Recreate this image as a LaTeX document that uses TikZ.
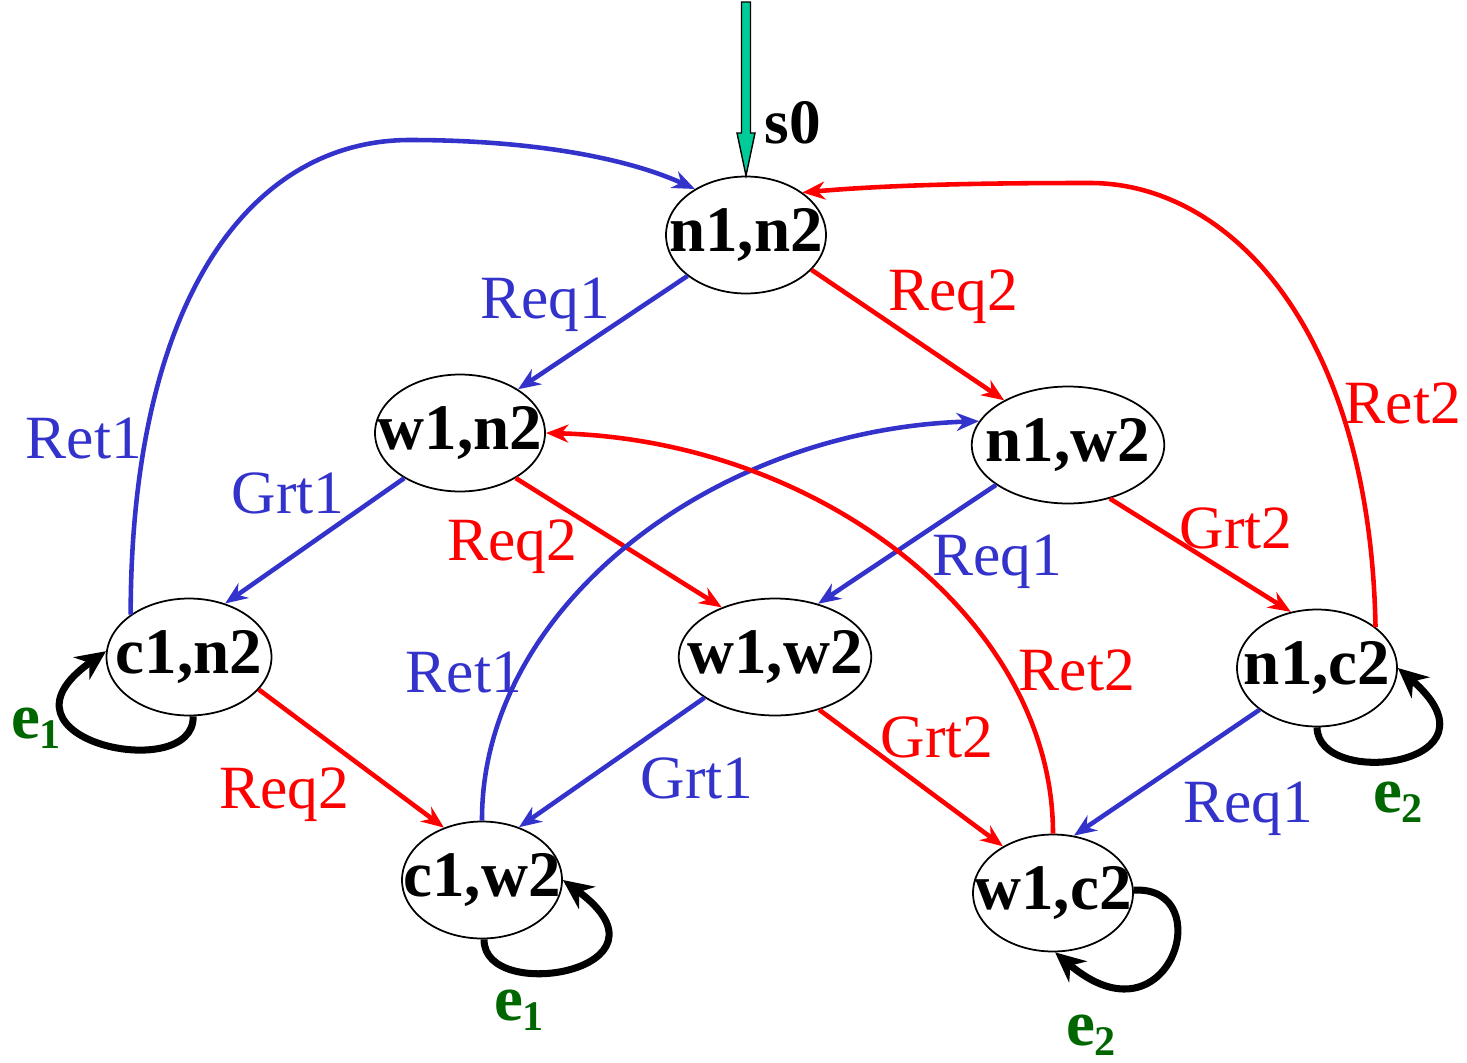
\documentclass[tikz,border=0pt]{standalone}
\usepackage{fontspec}
\setmainfont{Liberation Serif}
\usetikzlibrary{arrows.meta,shapes.geometric,calc}
\definecolor{mxblue}{HTML}{3333CC}
\definecolor{mxred}{HTML}{FF0000}
\definecolor{mxgreen}{HTML}{006600}
\definecolor{initgreen}{HTML}{00CC99}
\newcommand{\stname}[1]{\makebox[0pt]{\raisebox{-3.5pt}{#1}}}
\newcommand{\evt}[1]{\textbf{e}\raisebox{-0.35ex}{\fontsize{24}{24}\selectfont\bfseries #1}}

\begin{document}
\begin{tikzpicture}[
  x=0.02cm, y=-0.02cm,
  state/.style={ellipse, draw, line width=1pt, fill=white, inner sep=0pt, minimum width=3.2cm, minimum height=2.34cm, font=\fontsize{37}{40}\selectfont\bfseries},
  widestate/.style={state, minimum width=3.85cm},
  blueedge/.style={draw=mxblue, line width=2.6pt, -{Stealth[length=4.5mm,width=3.6mm]}},
  rededge/.style={blueedge, draw=mxred},
  loopedge/.style={line width=4pt, -{Stealth[length=6mm,width=5.5mm]}},
  lbl/.style={anchor=base, font=\fontsize{35}{40}\selectfont},
  bluelbl/.style={lbl, text=mxblue},
  redlbl/.style={lbl, text=mxred},
  evtlbl/.style={lbl, text=mxgreen, font=\fontsize{37}{40}\selectfont},
  initarrow/.style={fill=initgreen, draw=black, line width=0.8pt}
]
\useasboundingbox (0,0) rectangle (1467,1062);

% states
\node[state] (n1n2) at (746,235) {\stname{n1,n2}};
\node[state, minimum width=3.4cm] (w1n2) at (460,433) {\stname{w1,n2}};
\node[widestate] (n1w2) at (1068,445) {\stname{n1,w2}};
\node[state, minimum width=3.3cm] (c1n2) at (189,657) {\stname{c1,n2}};
\node[widestate] (w1w2) at (775,657) {\stname{w1,w2}};
\node[state] (n1c2) at (1317,668) {\stname{n1,c2}};
\node[state] (c1w2) at (482,880) {\stname{c1,w2}};
\node[state] (w1c2) at (1053,893) {\stname{w1,c2}};

% initial state
\coordinate (init) at (746,2);
\filldraw[initarrow] ($(init)+(-4.5,0)$) -- ($(init)+(-4.5,131)$) -- ($(init)+(-9,131)$) -- (n1n2.north)
  -- ($(init)+(9,131)$) -- ($(init)+(4.5,131)$) -- ($(init)+(4.5,0)$) -- cycle;
\node[lbl, font=\fontsize{36}{40}\selectfont\bfseries] (s0) at (793,143) {s0};

% transitions
\draw[blueedge] (n1n2.215) -- (w1n2.37);
\draw[rededge] (n1n2.-28) -- (n1w2.145);
\draw[blueedge] (w1n2.219) -- (c1n2.56);
\draw[rededge] (w1n2.-39) -- (w1w2.137);
\draw[blueedge] (n1w2.209) -- (w1w2.51);
\draw[rededge] (n1w2.-52) -- (n1c2.115);
\draw[rededge] (c1n2.-25) -- (c1w2.126);
\draw[blueedge] (w1w2.210) -- (c1w2.55);
\draw[rededge] (w1w2.-50) -- (w1c2.137);
\draw[blueedge] (n1c2.216) -- (w1c2.70);

% releases
\draw[blueedge] (c1n2.144) .. controls (131,300) and (250,140) .. (410,140)
  .. controls (520,140) and (620,155) .. (n1n2.138);
\draw[rededge] (n1c2.35) .. controls (1370,330) and (1230,183) .. (1090,183)
  .. controls (1000,183) and (900,184) .. (n1n2.37);
\draw[blueedge] (c1w2.90) .. controls (481,610) and (710,430) .. (n1w2.165);
\draw[rededge] (w1c2.90) .. controls (1053,620) and (820,440) .. (w1n2.0);

% idle loops
\draw[loopedge] (c1n2.-86) .. controls (195,785) and (-20,740) .. (c1n2.176);
\draw[loopedge] (c1w2.-88) .. controls (483,1005) and (685,970) .. (c1w2.0);
\draw[loopedge] (w1c2.2) .. controls (1220,885) and (1170,1050) .. (w1c2.-88);
\draw[loopedge] (n1c2.-90) .. controls (1318,790) and (1510,765) .. (n1c2.0);

% labels
\node[bluelbl] (req1a) at (545,318) {Req1};
\node[redlbl] (req2a) at (953,310) {Req2};
\node[bluelbl] (ret1a) at (84,458) {Ret1};
\node[redlbl] (ret2a) at (1403,423) {Ret2};
\node[bluelbl] (grt1a) at (288,513) {Grt1};
\node[redlbl] (req2b) at (512,560) {Req2};
\node[bluelbl] (req1b) at (997,575) {Req1};
\node[redlbl] (grt2a) at (1236,548) {Grt2};
\node[bluelbl] (ret1b) at (464,692) {Ret1};
\node[redlbl] (ret2b) at (1077,690) {Ret2};
\node[redlbl] (req2c) at (284,808) {Req2};
\node[bluelbl] (grt1b) at (697,798) {Grt1};
\node[redlbl] (grt2b) at (937,757) {Grt2};
\node[bluelbl] (req1c) at (1248,822) {Req1};
\node[evtlbl] (e1a) at (36,738) {\evt{1}};
\node[evtlbl] (e1b) at (519,1020) {\evt{1}};
\node[evtlbl] (e2a) at (1091,1045) {\evt{2}};
\node[evtlbl] (e2b) at (1398,812) {\evt{2}};
\end{tikzpicture}
\end{document}
